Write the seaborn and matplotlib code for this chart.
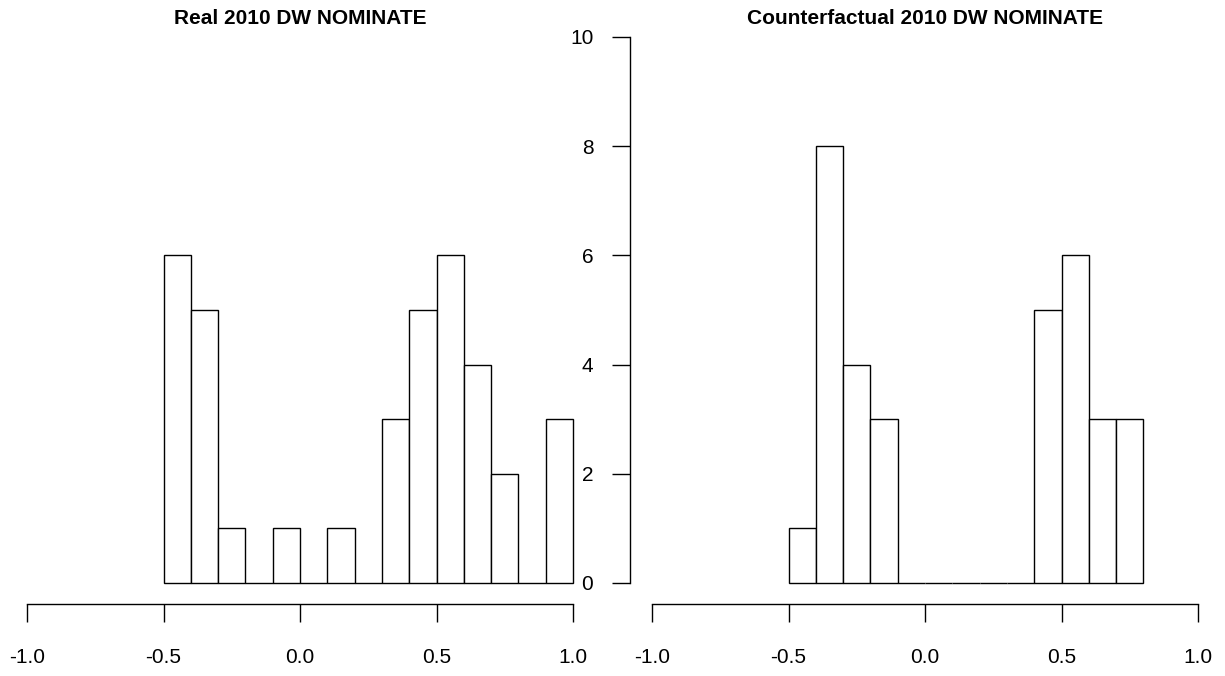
import numpy as np
import pandas as pd
import matplotlib
matplotlib.use("Agg")
import matplotlib.pyplot as plt
import seaborn as sns

# ---- data ----
real_edges = [-0.5, -0.4, -0.3, -0.2, -0.1, 0.0, 0.1, 0.2, 0.3, 0.4, 0.5, 0.6, 0.7, 0.8, 0.9, 1.0]
real_counts = [6, 5, 1, 0, 1, 0, 1, 0, 3, 5, 6, 4, 2, 0, 3]
cf_edges = [-0.5, -0.4, -0.3, -0.2, -0.1, 0.0, 0.1, 0.2, 0.3, 0.4, 0.5, 0.6, 0.7, 0.8]
cf_counts = [1, 8, 4, 3, 0, 0, 0, 0, 0, 5, 6, 3, 3]
x_ticks = [-1.0, -0.5, 0.0, 0.5, 1.0]
x_tick_labels = ["-1.0", "-0.5", "0.0", "0.5", "1.0"]
y_ticks = [0, 2, 4, 6, 8, 10]
titles = ["Real 2010 DW NOMINATE", "Counterfactual 2010 DW NOMINATE"]

sns.set_style("white")
plt.rcParams["font.family"] = ["Liberation Sans", "DejaVu Sans"]
plt.rcParams["text.color"] = "black"
plt.rcParams["xtick.color"] = "black"
plt.rcParams["ytick.color"] = "black"
plt.rcParams["axes.labelcolor"] = "black"

W, H = 1225, 676
fig = plt.figure(figsize=(W / 100, H / 100), dpi=100)

def px_axes(x0, x1, y_top, y_bot):
    return fig.add_axes([x0 / W, (H - y_bot) / H, (x1 - x0) / W, (y_bot - y_top) / H])

ax1 = px_axes(27, 573, 37, 583)
ax2 = px_axes(652, 1198, 37, 583)

panels = [(ax1, real_edges, real_counts, False), (ax2, cf_edges, cf_counts, True)]

for (ax, edges, counts, show_y), title in zip(panels, titles):
    e = np.array(edges)
    centers = (e[:-1] + e[1:]) / 2
    df = pd.DataFrame({"x": centers, "w": counts})
    sns.histplot(data=df, x="x", weights="w", bins=edges, stat="count",
                 color="white", edgecolor="black", linewidth=1.0, alpha=1.0, ax=ax)
    for p in ax.patches:
        p.set_clip_on(False)
        p.set_edgecolor("black")
    ax.set_xlim(-1.0, 1.0)
    ax.set_ylim(0, 10)
    ax.set_xlabel("")
    ax.set_ylabel("")
    ax.set_facecolor("white")
    for s in ["top", "right"]:
        ax.spines[s].set_visible(False)
    ax.spines["bottom"].set_position(("outward", 15.1))
    ax.spines["bottom"].set_bounds(-1.0, 1.0)
    ax.spines["bottom"].set_linewidth(1.0)
    ax.spines["bottom"].set_color("black")
    ax.set_xticks(x_ticks)
    ax.set_xticklabels(x_tick_labels)
    ax.tick_params(axis="x", direction="out", length=13, width=1.0, color="black",
                   pad=19, labelsize=15, labelcolor="black", bottom=True)
    if show_y:
        ax.spines["left"].set_position(("outward", 15.8))
        ax.spines["left"].set_bounds(0, 10)
        ax.spines["left"].set_linewidth(1.0)
        ax.spines["left"].set_color("black")
        ax.set_yticks(y_ticks)
        ax.tick_params(axis="y", direction="out", length=13, width=1.0, color="black",
                       pad=13.5, labelsize=15, labelcolor="black", left=True)
    else:
        ax.spines["left"].set_visible(False)
        ax.set_yticks([])
    ax.set_title(title, fontsize=15, fontweight="bold", pad=9.4, color="black")

fig.savefig("out.png", dpi=100, facecolor="white")
